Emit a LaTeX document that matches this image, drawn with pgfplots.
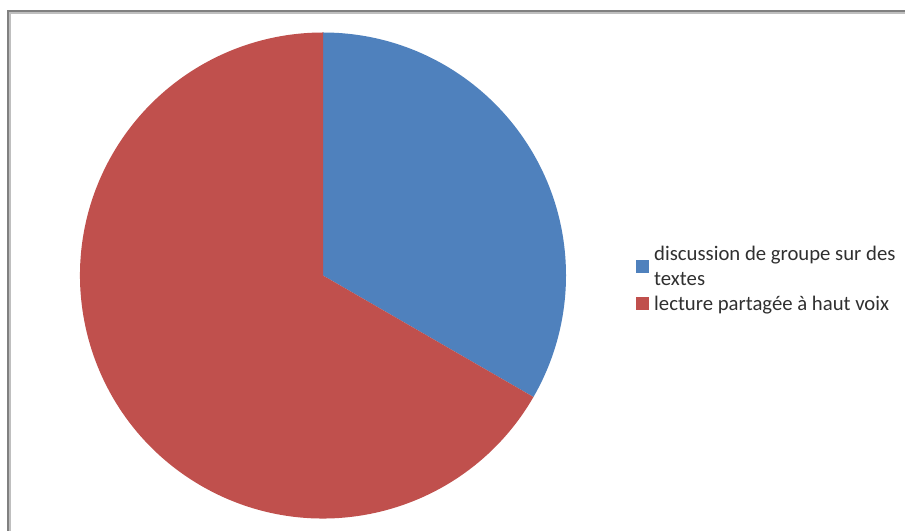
\documentclass[border=0pt]{standalone}
\usepackage{pgfplots}
\usepackage{pgfplotstable}
\pgfplotsset{compat=1.18}
\usepackage{fontspec}
\setmainfont{Carlito}
\definecolor{pieblue}{HTML}{4F81BD}
\definecolor{piered}{HTML}{C0504D}
\definecolor{txt}{HTML}{303030}
\pgfplotstableread{
label value
discussion 1
lecture 2
}\piedata
\begin{document}
\begin{tikzpicture}
\useasboundingbox (0bp,0bp) rectangle (905bp,531bp);
\clip (0bp,0bp) rectangle (905bp,531bp);
\begin{scope}[x=1bp,y=1bp]
\fill[white] (0,0) rectangle (905,531);
% frame
\draw[color=black!50, line width=2bp] (8,-5) -- (8,520) -- (915,520);
\draw[color=black!25, line width=1.5bp] (10.2,-5) -- (10.2,518.2) -- (915,518.2);
\end{scope}
\pgfplotstablegetelem{0}{value}\of\piedata \let\va\pgfplotsretval
\pgfplotstablegetelem{1}{value}\of\piedata \let\vb\pgfplotsretval
\pgfmathsetmacro{\tot}{\va+\vb}
\pgfmathsetmacro{\angA}{90-360*\va/\tot}
\pgfmathsetmacro{\angB}{\angA-360*\vb/\tot}
\begin{axis}[at={(323bp,255.5bp)}, anchor=center, hide axis, scale only axis,
  width=486bp, height=486bp, xmin=-1, xmax=1, ymin=-1, ymax=1, clip=false]
\fill[pieblue] (axis cs:0,0) -- (axis cs:0,1) arc[start angle=90, end angle=\angA, radius=243bp] -- cycle;
\fill[piered] (axis cs:0,0) -- (axis cs:{cos(\angA)},{sin(\angA)}) arc[start angle=\angA, end angle=\angB, radius=243bp] -- cycle;
\end{axis}
\begin{scope}[x=1bp,y=1bp]
% legend
\fill[pieblue] (636,531-273) rectangle (649,531-260);
\fill[piered] (636,531-310) rectangle (649,531-297);
\node[anchor=base west, inner sep=0pt, text=txt, font=\fontsize{20.8}{25}\selectfont] at (654,531-260.5) {discussion de groupe sur des};
\node[anchor=base west, inner sep=0pt, text=txt, font=\fontsize{20.8}{25}\selectfont] at (654,531-285.5) {textes};
\node[anchor=base west, inner sep=0pt, text=txt, font=\fontsize{20.8}{25}\selectfont] at (654,531-310) {lecture partagée à haut voix};
\end{scope}
\end{tikzpicture}
\end{document}
